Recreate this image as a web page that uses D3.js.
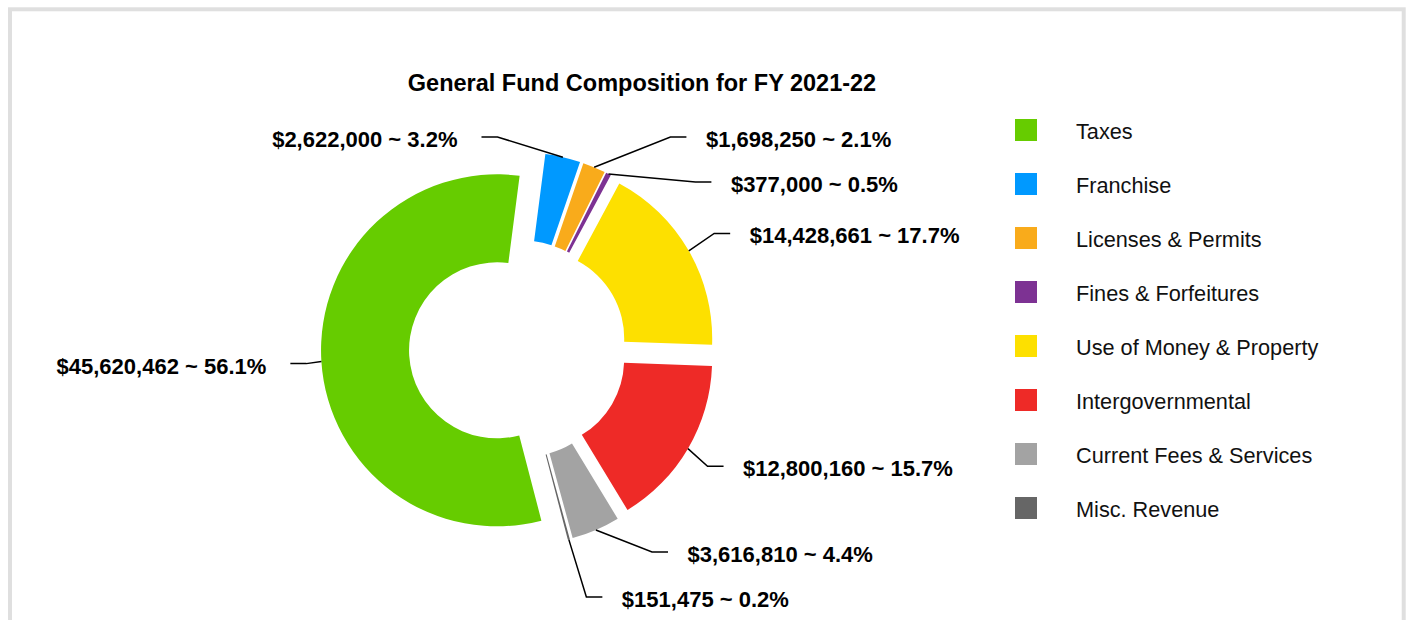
<!DOCTYPE html>
<html>
<head>
<meta charset="utf-8">
<script src="https://cdn.jsdelivr.net/npm/d3@7"></script>
<style>
  html, body { margin: 0; padding: 0; background: #fff; }
  svg { display: block; font-family: "Liberation Sans", Arial, sans-serif; }
</style>
</head>
<body>
<div id="chart"></div>
<script>
// données
const categories = ['Taxes', 'Franchise', 'Licenses & Permits', 'Fines & Forfeitures',
  'Use of Money & Property', 'Intergovernmental', 'Current Fees & Services', 'Misc. Revenue'];
const amounts = [45620462, 2622000, 1698250, 377000, 14428661, 12800160, 3616810, 151475];
const colors = ['#66cc00', '#0099ff', '#f9ab1b', '#7d3293', '#fde000', '#ee2a27', '#a3a3a3', '#666666'];
const chartTitle = 'General Fund Composition for FY 2021-22';

const width = 1411, height = 620;
const svg = d3.select('#chart').append('svg')
  .attr('width', width)
  .attr('height', height);

// cadre gris autour du graphique
svg.append('rect')
  .attr('x', 10).attr('y', 9.3)
  .attr('width', 1393.7).attr('height', 700)
  .attr('fill', 'none')
  .attr('stroke', '#dfdfdf')
  .attr('stroke-width', 4);

// titre
svg.append('text')
  .attr('x', 642).attr('y', 91)
  .attr('text-anchor', 'middle')
  .style('font-size', '23.5px')
  .style('font-weight', 'bold')
  .text(chartTitle);

// anneau
const cx = 518, cy = 349, rOuter = 176, rInner = 88, explode = 21;
const startDeg = 165.4;
const rad = deg => deg * Math.PI / 180;

const pie = d3.pie()
  .sort(null)
  .value(d => d.value)
  .startAngle(rad(startDeg))
  .endAngle(rad(startDeg + 360));

const arc = d3.arc().innerRadius(rInner).outerRadius(rOuter);
const total = d3.sum(amounts);

const slices = pie(amounts.map((v, i) => ({ name: categories[i], value: v, color: colors[i] })));
slices.forEach(s => {
  s.mid = (s.startAngle + s.endAngle) / 2;
  s.ux = Math.sin(s.mid);
  s.uy = -Math.cos(s.mid);
  s.ox = cx + explode * s.ux;          // centre décalé (part détachée)
  s.oy = cy + explode * s.uy;
  s.ax = s.ox + rOuter * s.ux;         // point d'attache du trait
  s.ay = s.oy + rOuter * s.uy;
  s.ny = s.oy + (rOuter + 35) * s.uy;  // position "naturelle" de l'étiquette
  s.side = s.ux >= 0 ? 1 : -1;
});

svg.append('g').selectAll('path')
  .data(slices)
  .enter()
  .append('path')
  .attr('transform', d => `translate(${d.ox},${d.oy})`)
  .attr('d', arc)
  .style('fill', d => d.data.color);

// placement des étiquettes
const spacing = 45, yMin = 137, yMax = 597;
let right = slices.filter(s => s.side > 0);
let left = slices.filter(s => s.side < 0);

// le haut à droite est trop chargé : on passe la part la plus proche de midi à gauche
const crowdedRight = right.filter(s => s.ny < yMin + spacing);
const crowdedLeft = left.filter(s => s.ny < yMin + spacing);
if (crowdedRight.length > 1 && crowdedLeft.length === 0) {
  const moved = crowdedRight.reduce((a, b) => (a.ux < b.ux ? a : b));
  moved.side = -1;
  right = slices.filter(s => s.side > 0);
  left = slices.filter(s => s.side < 0);
}

function resolve(list) {
  list.sort((a, b) => a.ny - b.ny);
  let prev = -Infinity;
  list.forEach(s => { s.ly = Math.max(s.ny, prev + spacing, yMin); prev = s.ly; });
  let next = Infinity;
  for (let i = list.length - 1; i >= 0; i--) {
    list[i].ly = Math.min(list[i].ly, next - spacing, yMax);
    next = list[i].ly;
  }
}
resolve(right);
resolve(left);

// coude du trait sur une demi-ellipse autour du centre
const ellA = 212;
const ellB = { rightTop: 305, rightBottom: 262, leftTop: 213, leftBottom: 255 };
slices.forEach(s => {
  const dy = s.ly - cy;
  const key = (s.side > 0 ? 'right' : 'left') + (dy < 0 ? 'Top' : 'Bottom');
  const k = Math.max(0, 1 - (dy / ellB[key]) ** 2);
  s.ex = cx + s.side * ellA * Math.sqrt(k);
  s.hx = s.ex + s.side * 16;
  s.tx = s.hx + s.side * (s.side > 0 ? 19.5 : 24);
});

const fmt = d3.format(',');
const pct = d3.format('.1f');

const labels = svg.append('g');
labels.selectAll('polyline')
  .data(slices)
  .enter()
  .append('polyline')
  .attr('points', d => `${d.ax},${d.ay} ${d.ex},${d.ly} ${d.hx},${d.ly}`)
  .attr('fill', 'none')
  .attr('stroke', '#000')
  .attr('stroke-width', 1.5);

labels.selectAll('text')
  .data(slices)
  .enter()
  .append('text')
  .attr('x', d => d.tx)
  .attr('y', d => d.ly + 10)
  .attr('text-anchor', d => (d.side > 0 ? 'start' : 'end'))
  .style('font-size', '22px')
  .style('font-weight', 'bold')
  .text(d => `$${fmt(d.value)} ~ ${pct(d.value / total * 100)}%`);

// légende
const legend = svg.append('g').attr('transform', 'translate(1015, 119)');
const rows = legend.selectAll('g')
  .data(categories)
  .enter()
  .append('g')
  .attr('transform', (d, i) => `translate(0, ${i * 54})`);

rows.append('rect')
  .attr('width', 22)
  .attr('height', 22)
  .style('fill', (d, i) => colors[i]);

rows.append('text')
  .attr('x', 61)
  .attr('y', 20)
  .style('font-size', '21.7px')
  .style('fill', '#111')
  .text(d => d);
</script>
</body>
</html>
